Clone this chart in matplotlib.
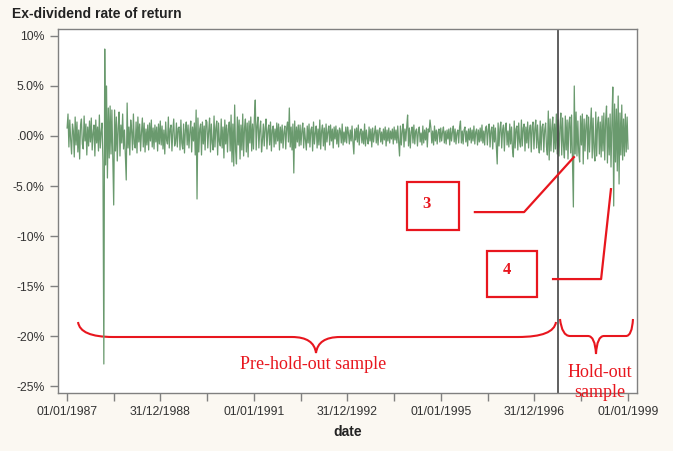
import numpy as np
import pandas as pd
import matplotlib
matplotlib.use('Agg')
import matplotlib.pyplot as plt
from matplotlib.path import Path
from matplotlib.patches import PathPatch, Rectangle

# Ex-dividend returns (%), one value per week from 02/01/1987
returns = [
    # 1987
    0.8, 2.2, -1.1, 1.6, -0.4, -1.8, 1.2, 0.5, -2.1, 1.9, -0.9, 1.4, -1.6,
    0.6, -2.3, 1.1, 1.7, -0.8, -1.3, 2.0, -0.5, 1.2, -1.9, 0.9, -1.0, 1.5,
    -0.6, 1.8, -1.4, 0.3, 1.1, -2.0, 1.6, -0.7, 0.9, -1.5, 2.1, -1.2, 0.4,
    1.3, -2.6, -22.8, 8.7, -2.9, 5.0, -4.2, 2.8, -2.2, 3.0, -1.8, 2.6, -2.4,
    # 1988
    -6.9, 2.6, -1.5, 1.9, -2.5, 0.8, 2.4, -2.0, 1.1, -0.7, 2.2, -1.3, 0.6,
    -1.9, -4.4, 3.3, -1.2, 0.9, -1.9, 1.6, 0.5, -1.4, 2.2, -0.8, -1.2, 1.4,
    -1.7, 1.9, -0.6, 1.2, -1.5, 0.4, 1.8, -1.1, 1.3, -1.6, 0.7, -0.9, 1.1,
    -1.4, 1.3, -0.5, 1.6, -1.1, 0.8, -1.3, 1.1, -0.6, 0.9, -1.5, 1.2, -0.8,
    # 1989
    1.5, -0.9, 1.0, -1.3, 0.6, -1.8, 1.4, -0.4, -0.8, 1.9, -1.2, 0.7, 1.1,
    -1.5, 0.5, 1.7, -1.0, -0.6, 1.3, -1.1, 0.8, 0.9, -1.4, 1.6, -0.7, -1.3,
    1.2, -1.7, 0.6, 1.4, -0.9, 1.1, -1.2, 0.4, 1.5, -1.6, 0.9, -0.5, 1.3,
    -1.9, 2.6, -6.3, 1.8, -1.6, 0.7, 1.2, -1.9, 1.4, -0.8, 1.0, -1.4, 1.6,
    # 1990
    1.4, -1.2, 0.5, 1.8, -1.6, 1.2, -0.7, -1.4, 2.0, -1.1, 0.8, 1.5, -1.9,
    1.3, -0.6, -1.0, 1.7, -1.2, 0.9, -2.2, 1.6, -0.8, 1.1, -1.6, 0.7, 1.4,
    -1.5, 2.1, -2.6, 1.2, -3.0, 3.1, -1.4, -2.8, 1.9, -0.9, 1.6, -2.3, 1.1,
    -1.4, 2.2, -2.0, 0.8, 1.7, -1.6, 1.3, -2.1, 1.5, -0.7, 1.9, -1.5, 1.2,
    # 1991
    -1.3, 1.8, 3.6, -1.4, 1.0, 1.9, -1.2, 0.6, 1.5, -1.6, -0.4, 1.2, -1.0,
    0.8, 1.7, -1.3, 0.5, 1.1, -0.9, 1.4, -1.5, 0.6, 1.0, -1.1, 0.7, -0.8,
    1.3, -0.5, 1.2, -1.4, 0.9, -0.7, 1.1, -1.2, 0.4, 1.0, -1.3, 0.8, 1.4,
    -0.6, 2.8, -1.1, 0.9, -1.4, 1.2, -3.7, 1.5, -1.2, 0.9, -0.6, 1.1, -1.0,
    # 1992
    1.1, -0.9, 0.5, 1.3, -1.2, 0.8, -0.4, -1.4, 1.0, -0.7, 1.2, -1.1, 0.6,
    0.9, -1.5, 1.4, -0.8, 0.3, 1.0, -1.2, 0.7, -0.9, 1.6, -1.3, 0.5, 1.1,
    -1.0, 0.8, -1.4, 1.2, -0.6, 0.4, 1.0, -0.9, 1.1, -0.5, 0.7, -1.2, 0.9,
    -0.3, 1.0, -0.8, 0.6, -1.1, 0.8, 0.5, -0.7, 1.2, -0.9, 0.4, -0.6, 0.9,
    # 1993
    -0.7, 0.9, 0.3, -0.8, 0.6, -0.5, 1.0, -0.6, -1.8, 0.7, -0.4, 0.8, -0.6,
    1.1, -0.9, 0.4, 0.7, -0.7, 0.5, -0.8, 1.2, -1.0, 0.6, -0.3, -0.8, 0.9,
    -0.5, 0.7, -1.1, 0.8, -0.6, 0.3, 1.0, -0.7, 0.6, -0.9, 0.5, 0.8, -0.6,
    0.4, -0.8, 0.7, -0.4, 0.9, -1.0, 0.6, -0.5, 0.8, -0.7, 0.5, -0.3, 0.7,
    # 1994
    -0.8, 0.9, -0.4, 0.6, -0.7, 1.0, -0.6, -2.0, 1.0, -0.9, 0.5, 1.2, -1.1,
    0.7, -0.5, 0.9, 2.1, -1.0, 0.8, -1.2, 0.4, 0.9, -0.7, 1.1, -0.8, 0.5,
    0.7, -1.0, 0.4, 0.9, -0.6, 0.3, -0.9, 1.0, -0.7, 0.6, -0.4, 0.8, -1.1,
    0.7, 0.4, 1.6, 0.8, -0.7, 0.5, -0.9, 1.0, -0.5, 0.6, -0.8, 0.4, 0.7,
    # 1995
    -0.6, 0.8, -0.5, 0.4, 0.9, -0.7, 0.5, -0.8, 0.6, -0.3, 0.7, -0.9, 0.8,
    -0.5, 0.4, 1.0, -0.6, 0.7, -0.8, 0.3, 0.6, -0.7, 0.9, 1.5, -0.7, 0.5,
    -0.8, 0.6, 0.9, -0.6, 0.5, -1.0, 0.7, -0.4, 0.8, -0.7, 0.6, -0.5, 1.0,
    -0.8, 0.4, 0.7, -0.9, 0.6, -0.6, 0.8, -0.5, 1.1, -0.7, 0.5, -0.9, 0.8,
    # 1996
    1.0, -0.9, 0.6, 1.2, -1.1, 0.5, 0.9, -1.3, 1.1, -0.6, 0.8, -1.0, -2.8,
    1.3, -1.0, 0.7, 1.4, -1.2, 0.6, 1.1, -1.5, 0.8, 1.3, -0.9, 0.5, -1.1,
    1.2, -0.8, 0.9, -1.3, -2.1, 1.5, -1.2, 0.7, 1.0, -1.4, 1.3, -0.6, -1.1,
    1.6, -1.0, 0.8, 1.2, -1.5, 0.9, -0.7, 1.4, -1.2, 0.6, 1.1, -1.6, 1.0,
    # 1997
    1.4, -1.3, 0.7, 1.6, -1.2, 1.1, -0.8, -1.7, 1.5, -1.4, 0.9, 1.2, -1.6,
    0.6, 1.3, -1.1, -1.9, 2.5, -2.4, 1.7, -1.5, 0.8, 1.9, -1.6, 1.2, -1.3,
    2.2, -1.8, 1.6, -2.0, 0.9, 2.3, -1.9, 1.8, -1.0, -2.2, 2.0, -1.4, 1.6,
    -2.3, 1.3, 1.9, -1.7, 2.1, -2.5, -7.1, 5.0, -1.8, 2.4, -2.0, 1.5, -1.6,
    # 1998
    -2.6, 2.0, -0.9, 2.2, -2.8, 1.7, -1.5, 1.1, 2.1, -2.3, 1.9, -1.6, 0.8,
    2.8, -2.2, 1.8, -1.3, -2.5, 2.4, -2.0, 1.2, 1.9, -1.8, 1.4, -2.1, 2.0,
    -1.5, 2.3, -2.4, 1.6, 3.0, -2.7, 1.8, -1.9, 2.2, -3.1, 1.4, 4.9, -7.0,
    3.2, -2.6, 2.7, -3.5, 4.0, -4.8, 2.3, -1.9, 3.1, -2.4, 1.7, -2.0, 2.2,
    -1.6, 1.9, -1.3,
]
dates = pd.date_range('1987-01-02', periods=len(returns), freq='7D')

holdout_start = pd.Timestamp('1997-07-01')

xtick_labels = ['01/01/1987', '31/12/1988', '01/01/1991', '31/12/1992',
                '01/01/1995', '31/12/1996', '01/01/1999']
xminor = ['1988-01-01', '1990-01-01', '1992-01-01', '1994-01-01',
          '1996-01-01', '1998-01-01']
yticks = [10, 5, 0, -5, -10, -15, -20, -25]
ytick_labels = ['10%', '5.0%', '.00%', '-5.0%', '-10%', '-15%', '-20%', '-25%']

bg = '#fbf8f2'
red = '#e8161e'
green = '#6a9a6e'

fig = plt.figure(figsize=(6.73, 4.51), dpi=100, facecolor=bg)
ax = fig.add_axes([0.0862, 0.1286, 0.8603, 0.8071])
ax.set_facecolor('white')

ax.plot(dates, returns, color=green, lw=0.9)
ax.axvline(holdout_start, color='#444444', lw=1.2)

ax.set_xlim(pd.Timestamp('1986-10-23'), pd.Timestamp('1999-03-12'))
ax.set_ylim(-25.7, 10.7)

xt = [pd.to_datetime(s, dayfirst=True) for s in xtick_labels]
ax.set_xticks(xt)
ax.set_xticklabels(xtick_labels)
ax.set_xticks(pd.to_datetime(xminor), minor=True)
ax.set_yticks(yticks)
ax.set_yticklabels(ytick_labels)

for sp in ax.spines.values():
    sp.set_color('#808080')
    sp.set_linewidth(1.0)
ax.tick_params(which='both', length=6, color='#808080', width=1.0,
               labelsize=8.8, labelcolor='#333333')
for lab in ax.get_xticklabels() + ax.get_yticklabels():
    lab.set_family('Liberation Sans')

fig.text(12 / 673, 1 - 14 / 451, 'Ex-dividend rate of return', fontsize=10,
         fontweight='bold', family='Liberation Sans', va='center', color='#222222')
ax.set_xlabel('date', fontsize=10, fontweight='bold', family='Liberation Sans',
              color='#222222', labelpad=5)

# annotations (axes fraction coordinates)
T = ax.transAxes


def box(x0, y0, x1, y1, label, tx, ty):
    ax.add_patch(Rectangle((x0, y0), x1 - x0, y1 - y0, transform=T, fill=False,
                           edgecolor=red, lw=1.6, clip_on=False))
    ax.text(tx, ty, label, transform=T, color=red, fontsize=12, fontweight='bold',
            family='Liberation Serif', ha='center', va='center')


box(0.603, 0.448, 0.692, 0.580, '3', 0.636, 0.519)
ax.plot([0.720, 0.805, 0.891], [0.497, 0.497, 0.648], transform=T,
        color=red, lw=1.6, clip_on=False)
box(0.741, 0.264, 0.827, 0.390, '4', 0.775, 0.338)
ax.plot([0.855, 0.938, 0.955], [0.313, 0.313, 0.560], transform=T,
        color=red, lw=1.6, clip_on=False)


def brace(pts):
    verts = [((px - 58) / 579, (393 - py) / 364) for px, py in pts]
    codes = [Path.MOVETO, Path.CURVE3, Path.CURVE3, Path.LINETO,
             Path.CURVE3, Path.CURVE3, Path.CURVE3, Path.CURVE3,
             Path.LINETO, Path.CURVE3, Path.CURVE3]
    ax.add_patch(PathPatch(Path(verts, codes), transform=T, fill=False,
                           edgecolor=red, lw=1.5, clip_on=False))


brace([(78, 322), (80, 337), (113, 337), (292, 337), (314, 337), (316, 353),
       (318, 337), (340, 337), (518, 337), (554, 337), (556, 322)])
brace([(560, 319), (562, 336), (570, 336), (588, 336), (595, 336), (596, 354),
       (597, 336), (604, 336), (626, 336), (632, 336), (633, 319)])

ax.text((313 - 58) / 579, (393 - 364) / 364, 'Pre-hold-out sample', transform=T,
        color=red, fontsize=13, family='Liberation Serif', ha='center', va='center')
ax.text((600 - 58) / 579, (393 - 372) / 364, 'Hold-out', transform=T,
        color=red, fontsize=13, family='Liberation Serif', ha='center', va='center',
        clip_on=False)
ax.text((600 - 58) / 579, (393 - 392) / 364, 'sample', transform=T,
        color=red, fontsize=13, family='Liberation Serif', ha='center', va='center',
        clip_on=False)

fig.savefig('out.png', dpi=100, facecolor=bg)
